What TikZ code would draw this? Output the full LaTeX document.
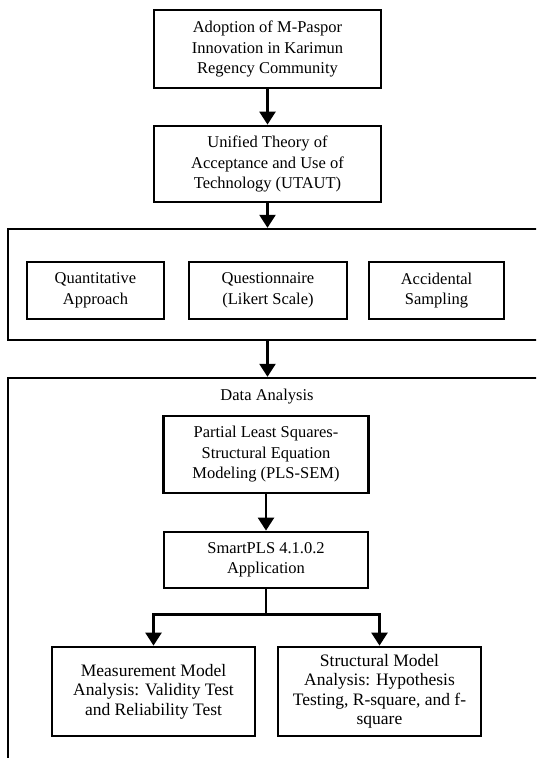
\documentclass[tikz,border=0pt]{standalone}
\usepackage{fontspec}
\setmainfont{Liberation Serif}
\usetikzlibrary{arrows.meta}
\begin{document}
\begin{tikzpicture}
  [x=1pt,y=-1pt,every node/.style={font=\fontsize{16.5}{20.5}\selectfont,align=center,inner sep=0pt}]
  \tikzstyle{box} = [draw,line width=2.8pt,shape=rectangle]
  \tikzstyle{frame} = [draw,line width=2.4pt,shape=rectangle]
  \tikzstyle{big} = [font=\fontsize{17.5}{19.5}\selectfont]
  \tikzstyle{arr} = [line width=2.5pt,-{Triangle[length=13pt,width=16pt]}]
  \useasboundingbox (0,0) rectangle (536,758);
  \clip (0,0) rectangle (536,758);
  \node[box,minimum width=227pt,minimum height=78pt] (adopt) at (267.5,49) {Adoption of M-Paspor\\Innovation in Karimun\\Regency Community};
  \node[box,minimum width=227pt,minimum height=76pt] (utaut) at (267.5,164) {Unified Theory of\\Acceptance and Use of\\Technology (UTAUT)};
  % research design
  \node[frame,minimum width=556pt,minimum height=111pt] (design) at (286,284.5) {};
  \node[box,minimum width=137pt,minimum height=57pt] (quant) at (95.5,290.5) {Quantitative\\Approach};
  \node[box,minimum width=158pt,minimum height=57pt] (quest) at (268,290.5) {Questionnaire\\(Likert Scale)};
  \node[box,minimum width=135pt,minimum height=57pt] (accid) at (436.5,290.5) {Accidental\\Sampling};
  % data analysis
  \node[frame,minimum width=556pt,minimum height=420pt] (analysis) at (286,588) {};
  \node (title) at (267,397) {Data Analysis};
  \node[box,minimum width=205pt,minimum height=77pt] (plssem) at (266,454.5) {Partial Least Squares-\\Structural Equation\\Modeling (PLS-SEM)};
  \node[box,minimum width=204pt,minimum height=56pt] (smart) at (266,560) {SmartPLS 4.1.0.2\\Application};
  \node[box,big,minimum width=203pt,minimum height=89pt] (meas) at (153.5,691.5) {Measurement Model\\Analysis: Validity Test\\and Reliability Test};
  \node[box,big,minimum width=203pt,minimum height=89pt] (struct) at (379.5,691.5) {Structural Model\\Analysis: Hypothesis\\Testing, R-square, and f-\\square};
  \coordinate (split) at ([yshift=-25pt]smart.south);
  \foreach \source /\dest in {adopt/utaut,plssem/smart}
   \draw[arr] (\source.south) -- (\dest.north);
  \draw[arr] (utaut.south) -- (utaut.south |- design.north);
  \draw[arr] (utaut.south |- design.south) -- (utaut.south |- analysis.north);
  \draw[line width=2.5pt] (smart.south) -- (split);
  \foreach \dest in {meas,struct}
   \draw[arr] (split) -| (\dest.north);
\end{tikzpicture}
\end{document}
